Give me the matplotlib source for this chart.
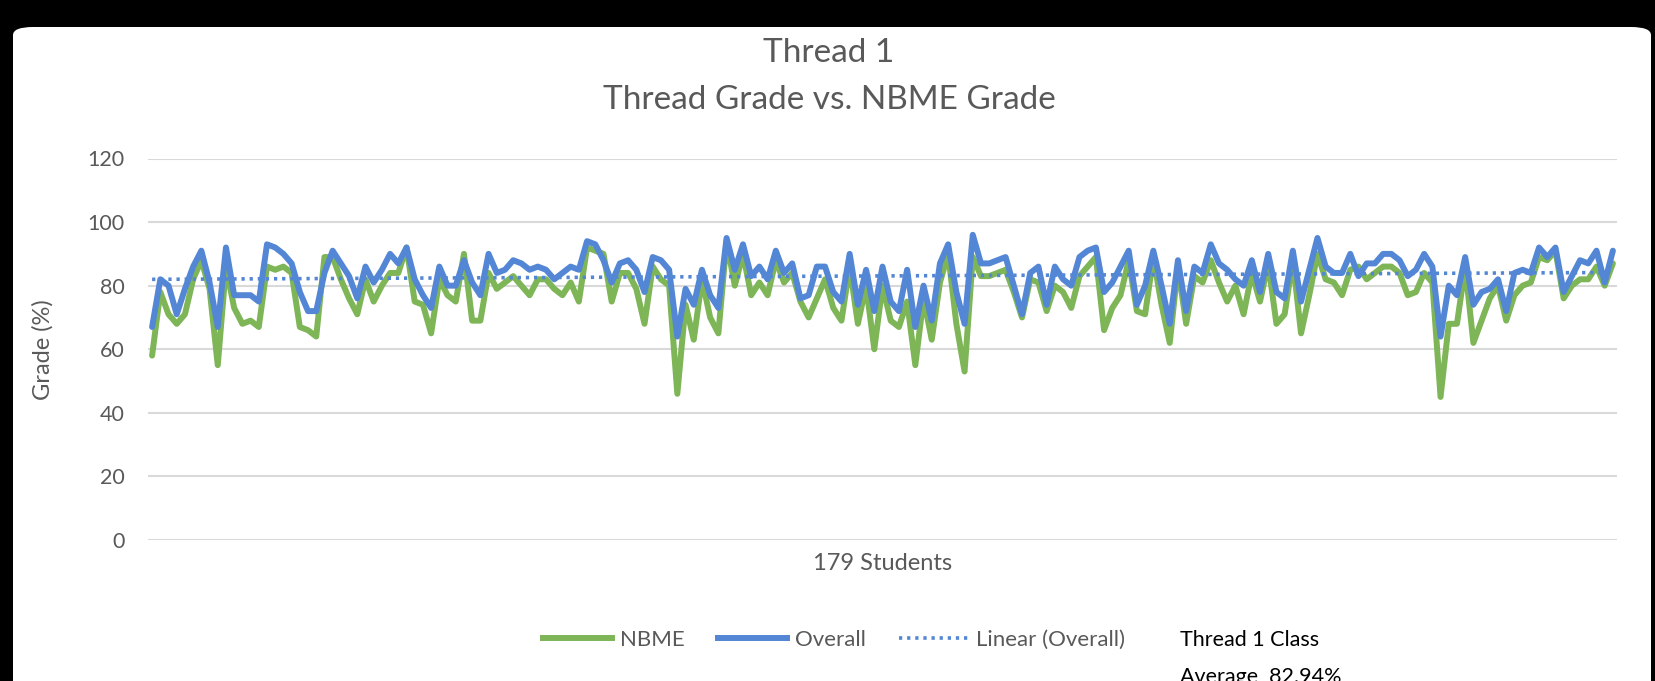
import numpy as np
import matplotlib
matplotlib.use("Agg")
import matplotlib.pyplot as plt
from matplotlib.patches import FancyBboxPatch
from matplotlib.lines import Line2D

plt.rcParams['font.family'] = ['Lato', 'DejaVu Sans']

nbme = [58, 78, 71, 68, 71, 82, 88, 79, 55, 86, 73, 68, 69, 67, 86, 85, 86, 84, 67, 66,
        64, 89, 89, 82, 76, 71, 82, 75, 80, 84, 84, 92, 75, 74, 65, 82, 77, 75, 90, 69,
        69, 84, 79, 81, 83, 80, 77, 82, 82, 79, 77, 81, 75, 92, 91, 90, 75, 84, 84, 79,
        68, 86, 82, 80, 46, 74, 63, 82, 70, 65, 94, 80, 90, 77, 81, 77, 88, 81, 84, 75,
        70, 76, 82, 73, 69, 86, 68, 80, 60, 80, 69, 67, 75, 55, 76, 63, 81, 90, 68, 53,
        89, 83, 83, 84, 85, 78, 70, 82, 81, 72, 80, 78, 73, 83, 86, 89, 66, 73, 77, 88,
        72, 71, 89, 74, 62, 86, 68, 83, 81, 88, 81, 75, 80, 71, 84, 75, 87, 68, 71, 88,
        65, 77, 90, 82, 81, 77, 85, 86, 82, 84, 86, 86, 84, 77, 78, 84, 81, 45, 68, 68,
        86, 62, 69, 76, 80, 69, 77, 80, 81, 89, 88, 91, 76, 80, 82, 82, 86, 80, 87]

overall = [67, 82, 80, 71, 79, 86, 91, 81, 67, 92, 77, 77, 77, 75, 93, 92, 90, 87, 78, 72,
           72, 84, 91, 87, 83, 76, 86, 81, 85, 90, 87, 92, 82, 77, 73, 86, 80, 80, 88, 81,
           77, 90, 84, 85, 88, 87, 85, 86, 85, 82, 84, 86, 85, 94, 93, 88, 81, 87, 88, 85,
           78, 89, 88, 85, 64, 79, 74, 85, 77, 73, 95, 85, 93, 83, 86, 82, 91, 84, 87, 76,
           77, 86, 86, 78, 75, 90, 74, 85, 72, 86, 75, 72, 85, 67, 80, 69, 87, 93, 78, 68,
           96, 87, 87, 88, 89, 80, 71, 84, 86, 74, 86, 82, 80, 89, 91, 92, 78, 81, 86, 91,
           74, 80, 91, 80, 68, 88, 72, 86, 84, 93, 87, 85, 82, 80, 88, 78, 90, 78, 76, 91,
           75, 85, 95, 86, 84, 84, 90, 83, 87, 87, 90, 90, 88, 83, 85, 90, 86, 64, 80, 77,
           89, 74, 78, 79, 82, 72, 84, 85, 84, 92, 89, 92, 78, 83, 88, 87, 91, 81, 91]

yticks = [0, 20, 40, 60, 80, 100, 120]
title_lines = ["Thread 1", "Thread Grade vs. NBME Grade"]
x_label = "179 Students"
y_label = "Grade (%)"
series_names = ["NBME", "Overall", "Linear (Overall)"]
note_lines = ["Thread 1 Class", "Average  82.94%"]

W, H = 1655, 681
fig = plt.figure(figsize=(W / 100, H / 100), dpi=100)
fig.patch.set_facecolor("black")

# white rounded chart area
card = FancyBboxPatch((13 / W, -0.2), (1651 - 13) / W, 1 - 27 / H + 0.2,
                      boxstyle="round,pad=0,rounding_size=0.012",
                      transform=fig.transFigure, facecolor="white",
                      edgecolor="none", zorder=-10)
fig.patches.append(card)

ax = fig.add_axes([148 / W, 1 - 540 / H, (1617 - 148) / W, (540 - 158.5) / H])
ax.set_facecolor("none")
ax.set_zorder(5)

green = "#7db557"
blue = "#5386d4"
gray = "#595959"

x = np.arange(len(overall))
ax.plot(x, nbme, color=green, lw=4.3, solid_joinstyle="round", solid_capstyle="round", zorder=3)
ax.plot(x, overall, color=blue, lw=4.3, solid_joinstyle="round", solid_capstyle="round", zorder=4)
coef = np.polyfit(x, overall, 1)
ax.plot(x, np.polyval(coef, x), color=blue, lw=2.6, linestyle=(0, (0.9, 1.35)), zorder=5)

ax.set_xlim(-0.5, len(overall) - 0.5)
ax.set_ylim(0, 120)
ax.set_yticks(yticks)
ax.set_yticklabels([str(v) for v in yticks], fontsize=15.5, color=gray)
ax.set_xticks([])
ax.tick_params(axis="y", length=0, pad=17)
for s in ax.spines.values():
    s.set_visible(False)
ax.grid(axis="y", color="#d9d9d9", lw=1.5)
ax.set_axisbelow(True)

ax.set_xlabel(x_label, fontsize=17, color=gray, labelpad=9)
ax.set_ylabel(y_label, fontsize=17, color=gray, labelpad=24)

fig.text(829 / W, 1 - 53 / H, title_lines[0], ha="center", va="center", fontsize=24, color=gray)
fig.text(829 / W, 1 - 100 / H, title_lines[1], ha="center", va="center", fontsize=24, color=gray)

handles = [Line2D([], [], color=green, lw=4.3),
           Line2D([], [], color=blue, lw=4.3),
           Line2D([], [], color=blue, lw=2.6, linestyle=(0, (0.9, 1.35)))]
fig.legend(handles, series_names, loc="center", bbox_to_anchor=(834 / W, 1 - 640 / H),
           ncol=3, frameon=False, fontsize=16, labelcolor=gray,
           handlelength=3.1, columnspacing=1.5, handletextpad=0.35)

fig.text(1180 / W, 1 - 640 / H, note_lines[0], ha="left", va="center", fontsize=15.5, color="black")
fig.text(1180 / W, 1 - 677 / H, note_lines[1], ha="left", va="center", fontsize=15.5, color="black")

fig.savefig("out.png", dpi=100, facecolor=fig.get_facecolor())
